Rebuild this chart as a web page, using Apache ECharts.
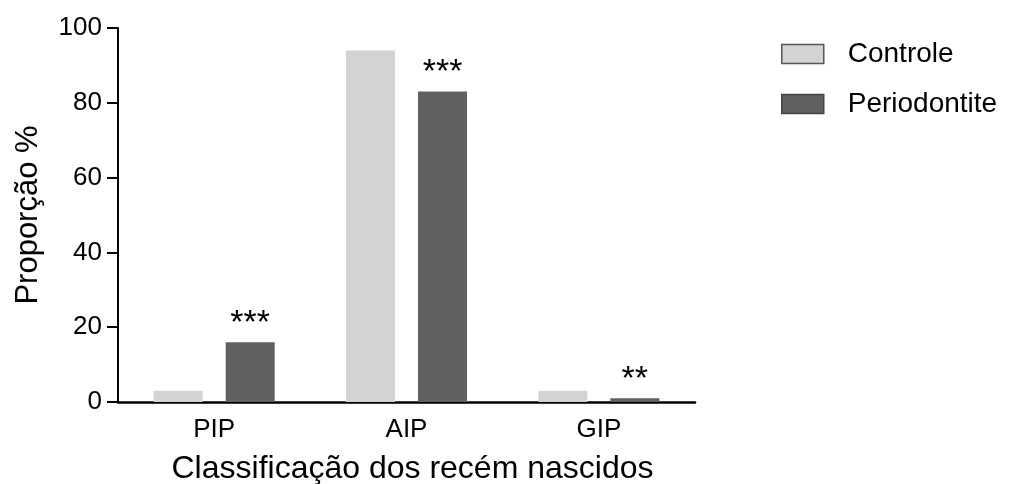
<!DOCTYPE html>
<html>
<head>
<meta charset="utf-8">
<script src="https://cdn.jsdelivr.net/npm/echarts@6/dist/echarts.min.js"></script>
<style>
html,body{margin:0;padding:0;background:#fff;}
#chart{width:1018px;height:484px;}
</style>
</head>
<body>
<div id="chart"></div>
<script>
var categories = ['PIP', 'AIP', 'GIP'];
var controle = [3, 94, 3];
var periodontite = [16, 83, 1];
var significance = ['***', '***', '**'];
var seriesNames = ['Controle', 'Periodontite'];
var yMin = 0, yMax = 100, yInterval = 20;

var FONT = "'Liberation Sans', Arial, sans-serif";
var chart = echarts.init(document.getElementById('chart'), null, {renderer: 'canvas'});
chart.setOption({
  animation: false,
  backgroundColor: '#fff',
  textStyle: {fontFamily: FONT},
  grid: {left: 118, right: 323, top: 28, bottom: 82, containLabel: false, outerBoundsMode: 'none'},
  legend: {
    orient: 'vertical',
    left: 776,
    top: 35,
    itemWidth: 42,
    itemHeight: 19,
    itemGap: 22,
    icon: 'rect',
    data: [
      {name: seriesNames[0], itemStyle: {color: '#d3d3d3', borderColor: '#555', borderWidth: 1.5}},
      {name: seriesNames[1], itemStyle: {color: '#606060', borderColor: '#444', borderWidth: 1.5}}
    ],
    textStyle: {fontFamily: FONT, fontSize: 28, color: '#000', lineHeight: 28, padding: [0, 0, 0, 19]}
  },
  xAxis: {
    type: 'category',
    data: categories,
    boundaryGap: true,
    name: 'Classificação dos recém nascidos',
    nameLocation: 'middle',
    nameGap: 51,
    nameTextStyle: {fontFamily: FONT, fontSize: 32, color: '#000', padding: [0, 0, 0, 12]},
    axisLine: {lineStyle: {color: '#000', width: 2.5}},
    axisTick: {alignWithLabel: true, length: 10, lineStyle: {color: '#000', width: 2}},
    axisLabel: {fontFamily: FONT, fontSize: 26, color: '#000', margin: 15}
  },
  yAxis: {
    type: 'value',
    min: yMin,
    max: yMax,
    interval: yInterval,
    name: 'Proporção %',
    nameLocation: 'middle',
    nameGap: 74,
    nameRotate: 90,
    nameTextStyle: {fontFamily: FONT, fontSize: 31, color: '#000'},
    axisLine: {show: true, lineStyle: {color: '#000', width: 2}},
    axisTick: {show: true, length: 11, lineStyle: {color: '#000', width: 2}},
    axisLabel: {fontFamily: FONT, fontSize: 26, color: '#000', margin: 16},
    splitLine: {show: false}
  },
  series: [
    {
      name: seriesNames[0],
      type: 'bar',
      data: controle,
      barWidth: 49,
      barGap: '47%',
      itemStyle: {color: '#d3d3d3'},
      emphasis: {disabled: true}
    },
    {
      name: seriesNames[1],
      type: 'bar',
      data: periodontite,
      barWidth: 49,
      barGap: '47%',
      itemStyle: {color: '#606060'},
      emphasis: {disabled: true},
      label: {
        show: true,
        position: 'top',
        distance: 4,
        fontFamily: FONT,
        fontSize: 34,
        lineHeight: 30,
        color: '#000',
        formatter: function (p) { return significance[p.dataIndex]; }
      }
    }
  ]
});
</script>
</body>
</html>
